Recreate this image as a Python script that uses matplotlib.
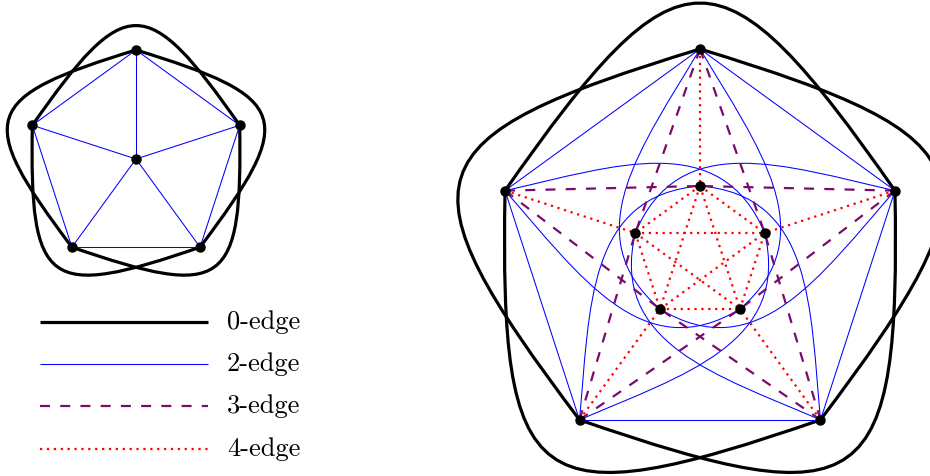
import numpy as np
import matplotlib.pyplot as plt
from matplotlib.path import Path
from matplotlib.patches import PathPatch

############################################################
# Data: two complete graphs on pentagon layouts (pixel units)
small_center = (136.0, 160.0)
small_radius = 109.0
big_center = (700.0, 255.0)
big_radius = 205.0
inner_radius = 68.0

# vertex k sits at angle 90 + 72*k degrees (counter clockwise)
n_outer = 5

# small graph: outer 0..4, centre 5
small_edges_0 = [(k, (k + 2) % 5) for k in range(5)]           # lobes
small_edges_2 = [(k, (k + 1) % 5) for k in range(5)] + [(k, 5) for k in range(5)]

# big graph: outer 0..4, inner 5..9
big_edges_0 = [(k, (k + 2) % 5) for k in range(5)]             # lobes
big_edges_2_straight = [(k, (k + 1) % 5) for k in range(5)]
big_edges_2_curved = [(k, 5 + (k + 2) % 5) for k in range(5)] + \
                     [(k, 5 + (k - 2) % 5) for k in range(5)]
big_edges_3 = [(k, 5 + (k + 1) % 5) for k in range(5)] + \
              [(k, 5 + (k - 1) % 5) for k in range(5)]
big_edges_4 = [(k, 5 + k) for k in range(5)] + \
              [(5 + i, 5 + j) for i in range(5) for j in range(i + 1, 5)]

legend_labels = ['0-edge', '2-edge', '3-edge', '4-edge']
legend_y = [323, 365, 407, 450]
############################################################

lobe_angle, lobe_loose = 55.0, 2.0
curve_out, curve_in, curve_loose = 22.0, 58.0, 1.1

style_0 = dict(color='black', lw=2.3, ls='-')
style_2 = dict(color='blue', lw=0.75, ls='-')
style_3 = dict(color='#7a0b6c', lw=1.6, ls=(0, (4.5, 4.6)))
style_4 = dict(color='red', lw=1.6, ls=(0, (1, 2.1)))


def pentagon(center, r):
    ang = np.deg2rad(90 + 72 * np.arange(n_outer))
    return np.c_[center[0] + r * np.cos(ang), center[1] - r * np.sin(ang)]


def bent(ax, p0, p3, center, a_out, a_in, loose, style):
    # tikz-like "to[out,in]" bending away from the centre
    p0, p3 = np.asarray(p0), np.asarray(p3)
    chord = p3 - p0
    d = np.linalg.norm(chord)
    u = chord / d
    n = np.array([-u[1], u[0]])
    if np.dot(n, (p0 + p3) / 2 - np.asarray(center)) < 0:
        n = -n
    a1, a2 = np.deg2rad(a_out), np.deg2rad(a_in)
    L = loose * 0.3915 * d
    p1 = p0 + L * (np.cos(a1) * u + np.sin(a1) * n)
    p2 = p3 + L * (-np.cos(a2) * u + np.sin(a2) * n)
    path = Path([p0, p1, p2, p3], [Path.MOVETO, Path.CURVE4, Path.CURVE4, Path.CURVE4])
    ax.add_patch(PathPatch(path, fill=False, capstyle='butt', **style))


def straight(ax, p0, p3, style):
    ax.plot([p0[0], p3[0]], [p0[1], p3[1]], solid_capstyle='butt',
            dash_capstyle='butt', **style)


fig = plt.figure(figsize=(9.3, 4.77), dpi=100)
ax = fig.add_axes([0, 0, 1, 1])
ax.set_xlim(0, 930)
ax.set_ylim(477, 0)
ax.axis('off')

# small graph
sv = np.vstack([pentagon(small_center, small_radius), [small_center]])
for i, j in small_edges_0:
    bent(ax, sv[i], sv[j], small_center, lobe_angle, lobe_angle, lobe_loose, style_0)
for i, j in small_edges_2:
    straight(ax, sv[i], sv[j], style_2)
ax.plot(sv[:, 0], sv[:, 1], 'o', ls='none', ms=6.5, color='black', zorder=5)

# big graph
bv = np.vstack([pentagon(big_center, big_radius), pentagon(big_center, inner_radius)])
for i, j in big_edges_0:
    bent(ax, bv[i], bv[j], big_center, lobe_angle, lobe_angle, lobe_loose, style_0)
for i, j in big_edges_2_straight:
    straight(ax, bv[i], bv[j], style_2)
for i, j in big_edges_2_curved:
    bent(ax, bv[i], bv[j], big_center, curve_out, curve_in, curve_loose, style_2)
for i, j in big_edges_3:
    straight(ax, bv[i], bv[j], style_3)
for i, j in big_edges_4:
    straight(ax, bv[i], bv[j], style_4)
ax.plot(bv[:, 0], bv[:, 1], 'o', ls='none', ms=6.5, color='black', zorder=5)

# legend
for lab, y, st in zip(legend_labels, legend_y, [style_0, style_2, style_3, style_4]):
    straight(ax, (40, y), (208, y), st)
    ax.text(227, y + 6, lab, family='cmr10', fontsize=19, va='baseline', ha='left')

plt.savefig('out.png', dpi=100)
